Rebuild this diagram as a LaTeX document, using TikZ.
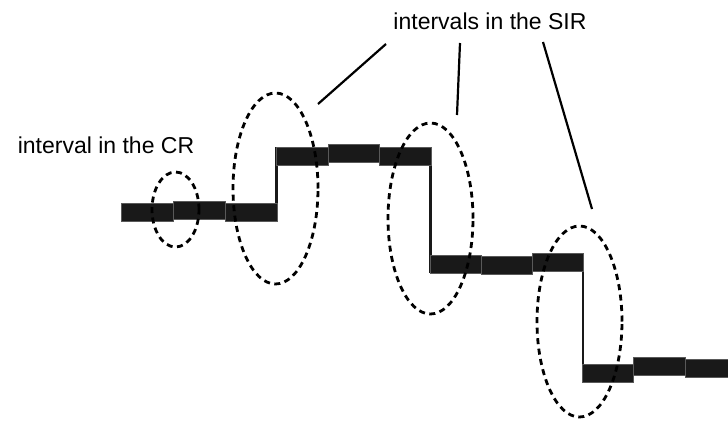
\documentclass[tikz,border=0pt]{standalone}
\usepackage{fontspec}
\setmainfont{Liberation Sans}
\usetikzlibrary{shapes.geometric}
\tikzset{
  lbl/.style={font=\fontsize{23}{27}\selectfont,inner sep=0pt,anchor=base},
  oval/.style={draw,ellipse,line width=2.8pt,dash pattern=on 6pt off 4.5pt,inner sep=0pt,
    minimum width=85pt,minimum height=191pt},
  seg/.style={fill=black!90,draw=black!65,line width=0.3pt},
  riser/.style={line width=2.6pt,draw=black!90},
  ln/.style={line width=2.2pt},
}
\begin{document}
\begin{tikzpicture}[x=1pt,y=-1pt]
\useasboundingbox (0,0) rectangle (728,421);

% labels
\node[lbl] (cr) at (106,153) {interval in the CR};
\node[lbl] (sir) at (490,29.5) {intervals in the SIR};

% step line: risers, then segments
\draw[riser] (276.5,222) -- (276.5,147);
\draw[riser] (430.5,147) -- (430.5,273);
\draw[riser] (583,253) -- (583,382);
\foreach \xa/\xb/\yt in {121/173/203, 173/225/201, 225/277/203,
    276/328/147, 328/379/144, 379/431/147,
    430/481/255, 481/532/256, 532/583/253,
    582/633/364, 633/685/357, 685/735/359}
  \path[seg] (\xa,\yt) rectangle (\xb,\yt+18.5);

% dashed ovals
\node[oval,minimum width=47pt,minimum height=75pt] (crint) at (175.5,209.5) {};
\node[oval] (sirA) at (275.5,188.5) {};
\node[oval] (sirB) at (430.5,218.5) {};
\node[oval] (sirC) at (579.5,321.5) {};

% pointers
\coordinate (tA) at (318,104);
\coordinate (tB) at (457,115);
\coordinate (tC) at (592,209);
\draw[ln] (386,44) -- (tA);
\draw[ln] (460,43) -- (tB);
\draw[ln] (543,42) -- (tC);
\end{tikzpicture}
\end{document}
